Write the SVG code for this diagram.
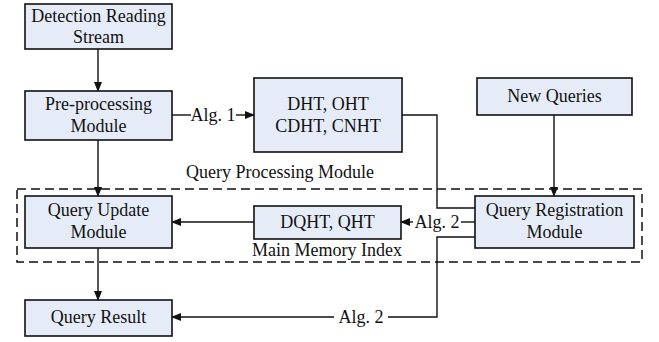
<svg xmlns="http://www.w3.org/2000/svg" width="659" height="342" viewBox="0 0 659 342">
<style>
.box{fill:#E6ECF7;stroke:#111;stroke-width:1.6}
.t{font-family:"Liberation Serif","Times New Roman",serif;font-size:18px;fill:#111;text-anchor:middle}
.ln{fill:none;stroke:#111;stroke-width:1.4}
.dash{fill:none;stroke:#111;stroke-width:1.5;stroke-dasharray:9 5}
</style>
<defs>
<marker id="ah" markerWidth="10" markerHeight="8" refX="9" refY="4" orient="auto" markerUnits="userSpaceOnUse">
<path d="M0,0 L10,4 L0,8 Z" fill="#111"/>
</marker>
</defs>
<rect class="dash" x="17" y="189" width="625" height="73"/>
<text class="t" x="280" y="178">Query Processing Module</text>
<text class="t" x="327" y="256">Main Memory Index</text>
<g id="connectors">
<line class="ln" x1="98" y1="49" x2="98" y2="91" marker-end="url(#ah)"/>
<line class="ln" x1="98" y1="140" x2="98" y2="196" marker-end="url(#ah)"/>
<line class="ln" x1="98" y1="248" x2="98" y2="300" marker-end="url(#ah)"/>
<line class="ln" x1="172" y1="115" x2="191" y2="115"/>
<text class="t" x="213" y="121">Alg. 1</text>
<line class="ln" x1="236" y1="115" x2="254" y2="115" marker-end="url(#ah)"/>
<polyline class="ln" points="402,115 437,115 437,208 475,208"/>
<line class="ln" x1="554" y1="115" x2="554" y2="196" marker-end="url(#ah)"/>
<line class="ln" x1="475" y1="222" x2="461" y2="222"/>
<text class="t" x="437" y="228">Alg. 2</text>
<line class="ln" x1="413" y1="222" x2="401" y2="222" marker-end="url(#ah)"/>
<line class="ln" x1="254" y1="222" x2="172" y2="222" marker-end="url(#ah)"/>
<polyline class="ln" points="475,237 437,237 437,317 388,317"/>
<text class="t" x="361" y="323">Alg. 2</text>
<line class="ln" x1="334" y1="317" x2="172" y2="317" marker-end="url(#ah)"/>
</g>
<g id="detection">
<rect class="box" x="25" y="4" width="147" height="45"/>
<text class="t" x="98.5" y="22">Detection Reading</text>
<text class="t" x="98.5" y="43">Stream</text>
</g>
<g id="preprocessing">
<rect class="box" x="25" y="91" width="147" height="49"/>
<text class="t" x="98.5" y="110">Pre-processing</text>
<text class="t" x="98.5" y="132">Module</text>
</g>
<g id="hashtables">
<rect class="box" x="254" y="78" width="148" height="74"/>
<text class="t" x="328" y="110">DHT, OHT</text>
<text class="t" x="328" y="132">CDHT, CNHT</text>
</g>
<g id="newqueries">
<rect class="box" x="477" y="78" width="155" height="37"/>
<text class="t" x="554.5" y="102">New Queries</text>
</g>
<g id="queryupdate">
<rect class="box" x="25" y="196" width="147" height="52"/>
<text class="t" x="98.5" y="216">Query Update</text>
<text class="t" x="98.5" y="238">Module</text>
</g>
<g id="dqht">
<rect class="box" x="254" y="206" width="147" height="33"/>
<text class="t" x="327.5" y="228">DQHT, QHT</text>
</g>
<g id="queryregistration">
<rect class="box" x="475" y="196" width="159" height="52"/>
<text class="t" x="554.5" y="216">Query Registration</text>
<text class="t" x="554.5" y="238">Module</text>
</g>
<g id="queryresult">
<rect class="box" x="25" y="300" width="147" height="36"/>
<text class="t" x="98.5" y="323">Query Result</text>
</g>
</svg>
